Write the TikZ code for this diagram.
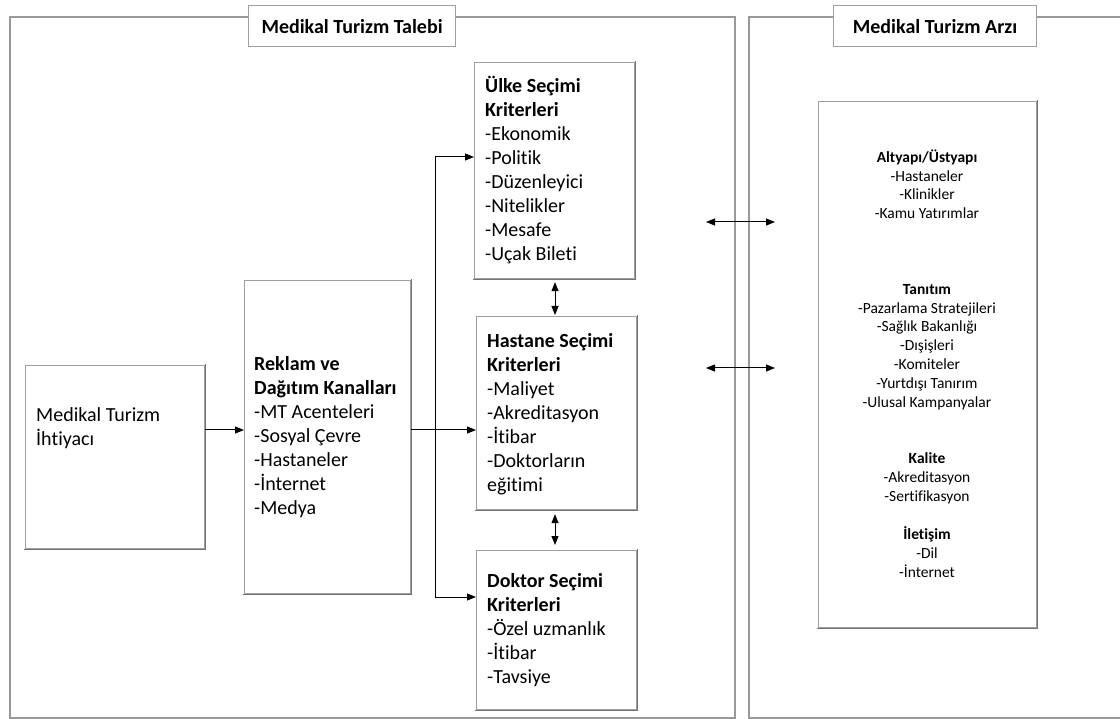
\documentclass[tikz,border=0pt]{standalone}
\usepackage{fontspec}
\setmainfont{Carlito}[Ligatures=NoCommon]
\usetikzlibrary{arrows.meta}
\newcommand\boxshade[1]{%
  \draw[shadeline] ([xshift=-0.6pt,yshift=-0.7pt]#1.south west) -- ([xshift=0.7pt,yshift=-0.7pt]#1.south east) -- ([xshift=0.7pt,yshift=0.6pt]#1.north east);}
\begin{document}
\begin{tikzpicture}[x=1pt,y=-1pt,
  frame/.style={draw=gray!80, line width=1.3pt},
  box/.style={draw=gray!75, line width=1.2pt, fill=white, inner sep=0pt, anchor=north west},
  shadeline/.style={draw=black!55, line width=1.1pt},
  titlebox/.style={box, font=\bfseries\fontsize{20}{24}\selectfont},
  maintext/.style={anchor=north west, inner sep=0pt, align=left, font=\fontsize{20}{24}\selectfont},
  sidetext/.style={anchor=north, inner sep=0pt, align=center, font=\fontsize{15.5}{18.86}\selectfont},
  arr/.style={draw=black, line width=1pt, -{Triangle[length=9pt,width=7pt]}},
  darr/.style={draw=black, line width=1pt, {Triangle[length=9pt,width=7pt]}-{Triangle[length=9pt,width=7pt]}},
  plain/.style={draw=black, line width=1pt}]
\useasboundingbox (0,0) rectangle (1120,719);
\fill[white] (0,0) rectangle (1120,719);

% frames
\draw[frame] (10,17) rectangle (735,718);
\draw[frame] (1122,17) -- (749,17) -- (749,718) -- (1122,718);

% title boxes
\node[titlebox, minimum width=207pt, minimum height=41pt] (ttalebi) at (248,5) {Medikal Turizm Talebi};
\node[titlebox, minimum width=203pt, minimum height=41pt] (tarzi) at (833,5) {Medikal Turizm Arz\i};

% boxes
\node[box, minimum width=179pt, minimum height=183pt] (ihtiyac) at (25,365) {};
\node[box, minimum width=166pt, minimum height=313pt] (reklam) at (244,280) {};
\node[box, minimum width=160pt, minimum height=216pt] (ulke) at (474,62) {};
\node[box, minimum width=160pt, minimum height=193pt] (hastane) at (476,316) {};
\node[box, minimum width=160pt, minimum height=159pt] (doktor) at (476,550) {};
\node[box, minimum width=218pt, minimum height=526pt] (arz) at (818,101) {};
\boxshade{ihtiyac}
\boxshade{reklam}
\boxshade{ulke}
\boxshade{hastane}
\boxshade{doktor}
\boxshade{arz}

% texts
\node[maintext] (tihtiyac) at (36,404.6) {\strut Medikal Turizm\\\strut İhtiyacı};
\node[maintext] (treklam) at (254,353.6) {\strut\textbf{Reklam ve}\\\strut\textbf{Dağıtım Kanalları}\\\strut -MT Acenteleri\\\strut -Sosyal Çevre\\\strut -Hastaneler\\\strut -İnternet\\\strut -Medya};
\node[maintext] (tulke) at (485,75.6) {\strut\textbf{Ülke Seçimi}\\\strut\textbf{Kriterleri}\\\strut -Ekonomik\\\strut -Politik\\\strut -Düzenleyici\\\strut -Nitelikler\\\strut -Mesafe\\\strut -Uçak Bileti};
\node[maintext] (thastane) at (487,330.6) {\strut\textbf{Hastane Seçimi}\\\strut\textbf{Kriterleri}\\\strut -Maliyet\\\strut -Akreditasyon\\\strut -İtibar\\\strut -Doktorların\\\strut eğitimi};
\node[maintext] (tdoktor) at (487,570.6) {\strut\textbf{Doktor Seçimi}\\\strut\textbf{Kriterleri}\\\strut -Özel uzmanlık\\\strut -İtibar\\\strut -Tavsiye};
\node[sidetext] (tarz) at (927,148.8) {\strut\textbf{Altyapı/Üstyapı}\\\strut -Hastaneler\\\strut -Klinikler\\\strut -Kamu Yatırımlar\\\strut\\\strut\\\strut\\\strut\textbf{Tanıtım}\\\strut -Pazarlama Stratejileri\\\strut -Sağlık Bakanlığı\\\strut -Dışişleri\\\strut -Komiteler\\\strut -Yurtdışı Tanırım\\\strut -Ulusal Kampanyalar\\\strut\\\strut\\\strut\textbf{Kalite}\\\strut -Akreditasyon\\\strut -Sertifikasyon\\\strut\\\strut\textbf{İletişim}\\\strut -Dil\\\strut -İnternet};

% connectors
\coordinate (row) at (0,430);
\coordinate (ua) at (435,157);
\coordinate (da) at (435,597);
\coordinate (vx) at (555,0);
\draw[arr] (ihtiyac.east |- row) -- (reklam.west |- row);
\draw[arr] (reklam.east |- row) -- (hastane.west |- row);
\draw[plain] (ua) -- (da);
\draw[arr] (ua) -- (ua -| ulke.west);
\draw[arr] (da) -- (da -| doktor.west);
\draw[darr, shorten <=3pt, shorten >=1pt] (vx |- ulke.south) -- (vx |- hastane.north);
\draw[darr, shorten <=4pt, shorten >=5pt] (vx |- hastane.south) -- (vx |- doktor.north);
\coordinate (h1a) at (706,222);
\coordinate (h1b) at (775,222);
\coordinate (h2a) at (706,368);
\coordinate (h2b) at (775,368);
\draw[darr] (h1a) -- (h1b);
\draw[darr] (h2a) -- (h2b);
\end{tikzpicture}
\end{document}
